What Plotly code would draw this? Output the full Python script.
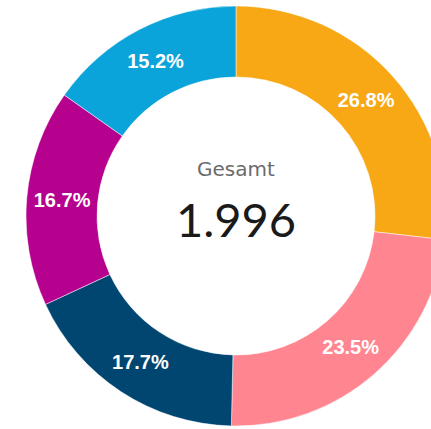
import plotly.graph_objects as go

categories = ["A", "B", "C", "D", "E"]
values = [535, 470, 354, 333, 304]
colors = ["#F8A814", "#FF8590", "#004670", "#B6008E", "#0AA3DA"]
total_label = "Gesamt"
total_value = "1.996"

fig = go.Figure(go.Pie(
    labels=categories,
    values=values,
    hole=0.662,
    sort=False,
    direction="clockwise",
    rotation=0,
    marker=dict(colors=colors, line=dict(color="white", width=0.5)),
    texttemplate="%{percent:.1%}",
    textposition="inside",
    insidetextorientation="horizontal",
    textfont=dict(family="Liberation Sans, Arial, sans-serif", size=20, color="white", weight="bold"),
    hoverinfo="none",
    showlegend=False,
))

fig.add_annotation(x=0.5, y=0.5, xref="paper", yref="paper", text=total_label,
                   showarrow=False, yshift=47,
                   font=dict(family="DejaVu Sans, sans-serif", size=20, color="#6b6b6b"))
fig.add_annotation(x=0.5, y=0.5, xref="paper", yref="paper", text=total_value,
                   showarrow=False, yshift=-3,
                   font=dict(family="Lato, sans-serif", size=47, color="#1a1a1a"))

fig.update_layout(
    width=446, height=429,
    margin=dict(l=26, t=6, r=0, b=3),
    paper_bgcolor="white", plot_bgcolor="white",
    uniformtext=dict(minsize=20, mode="show"),
)

fig.write_html("out.html", config={"displayModeBar": False},
               post_script="document.body.style.margin='0';document.body.style.overflow='hidden';document.documentElement.style.overflow='hidden';")
